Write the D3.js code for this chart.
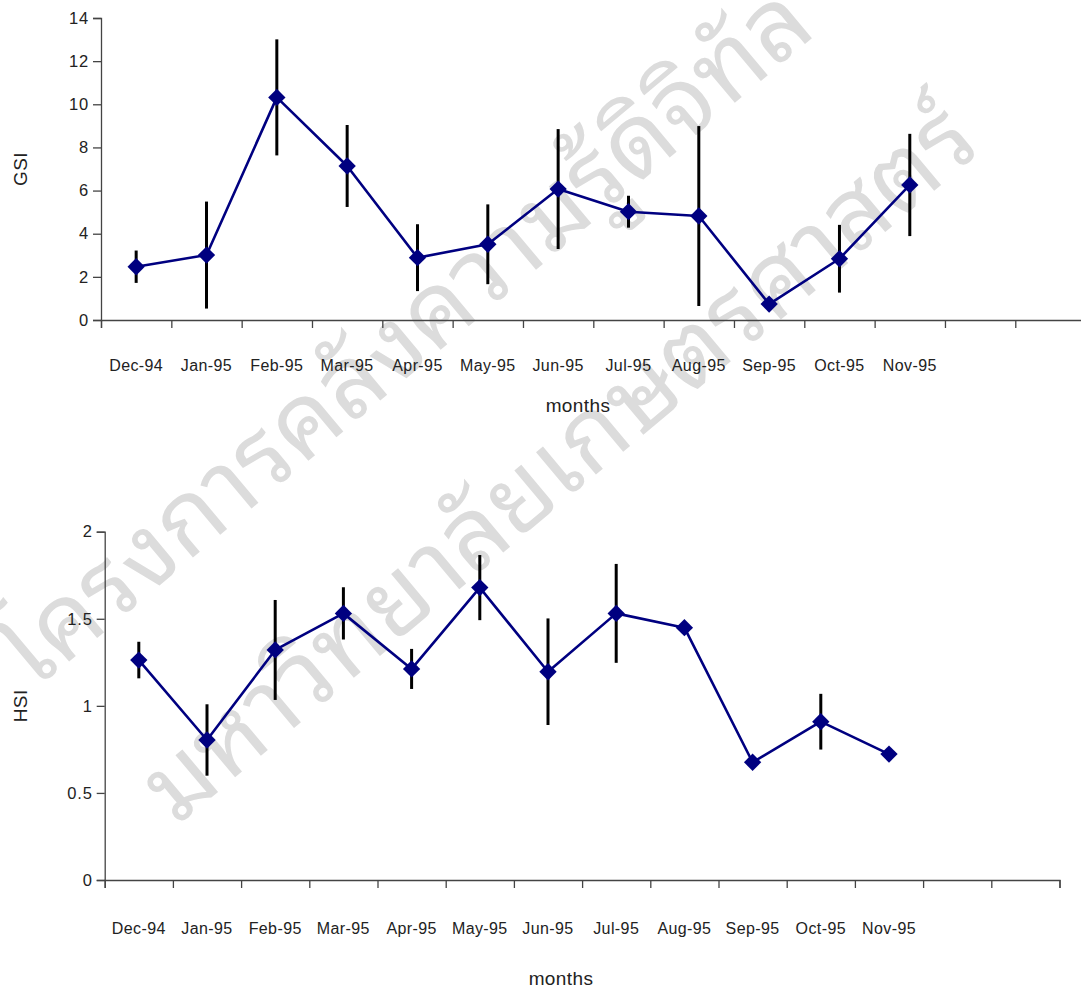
<!DOCTYPE html>
<html>
<head>
<meta charset="utf-8">
<script src="https://cdn.jsdelivr.net/npm/d3@7"></script>
<style>
  html, body { margin: 0; padding: 0; background: #fff; }
  svg { display: block; }
  text { font-family: "Liberation Sans", Arial, Helvetica, sans-serif; }
</style>
</head>
<body>
<div id="chart"></div>
<script>
// Monthly categories (Dec 1994 – Nov 1995)
const months = ["Dec-94", "Jan-95", "Feb-95", "Mar-95", "Apr-95", "May-95",
                "Jun-95", "Jul-95", "Aug-95", "Sep-95", "Oct-95", "Nov-95"];
const slotCount = 14; // the category axis has two empty slots after Nov-95

// Gonadosomatic index: monthly mean and error
const gsiMean = [2.47, 3.01, 10.32, 7.14, 2.89, 3.51, 6.07, 5.02, 4.82, 0.74, 2.84, 6.26];
const gsiErr  = [0.75, 2.48, 2.69, 1.90, 1.55, 1.85, 2.78, 0.74, 4.17, 0.00, 1.57, 2.37];
const gsiTicks = [0, 2, 4, 6, 8, 10, 12, 14];

// Hepatosomatic index: monthly mean and error
const hsiMean = [1.263, 0.804, 1.321, 1.531, 1.212, 1.679, 1.196, 1.531, 1.449, 0.676, 0.909, 0.723];
const hsiErr  = [0.105, 0.205, 0.287, 0.150, 0.115, 0.187, 0.306, 0.284, 0.000, 0.020, 0.160, 0.010];
const hsiTicks = [0, 0.5, 1, 1.5, 2];

// Watermark lines
const watermarkLines = ["โครงการคลังความรู้ดิจิทัล", "มหาวิทยาลัยเกษตรศาสตร์"];

const W = 1081, H = 989;
const svg = d3.select("#chart").append("svg")
  .attr("width", W).attr("height", H)
  .attr("viewBox", `0 0 ${W} ${H}`);

// Watermark, behind the charts
const wm = svg.append("g").attr("class", "watermark");
const wmPos = [[426, 362], [580, 488]];
watermarkLines.forEach((t, i) => {
  wm.append("text")
    .attr("transform", `translate(${wmPos[i][0]},${wmPos[i][1]}) rotate(-40)`)
    .attr("text-anchor", "middle")
    .style("font-family", "'Noto Sans Thai Looped','Noto Sans Thai','Loma','Garuda','Norasi',sans-serif")
    .style("font-size", "100px")
    .style("font-weight", 400)
    .attr("fill", "#dcdcdc")
    .text(t);
});

function panel(opts) {
  const g = svg.append("g");
  const { x0, x1, yTop, yBottom, yMax, ticks, mean, err, yLabel, labelY, titleX, titleY } = opts;

  const y = d3.scaleLinear().domain([0, yMax]).range([yBottom, yTop]);
  const band = d3.scaleBand().domain(d3.range(slotCount)).range([x0, x1]).padding(0);
  const edge = d3.scaleLinear().domain([0, slotCount]).range([x0, x1]);

  // y axis
  const yAxis = g.append("g")
    .attr("transform", `translate(${x0},0)`)
    .call(d3.axisLeft(y).tickValues(ticks).tickSize(8).tickPadding(4)
      .tickFormat(d3.format("")));
  yAxis.select(".domain").attr("stroke", "#444").attr("stroke-width", 1.3);
  yAxis.selectAll(".tick line").attr("stroke", "#444").attr("stroke-width", 1.3);
  yAxis.selectAll(".tick text").attr("fill", "#222")
    .style("font-size", "16.5px").style("letter-spacing", "0.8px");

  // x axis: ticks on category boundaries
  const xAxis = g.append("g")
    .attr("transform", `translate(0,${yBottom})`)
    .call(d3.axisBottom(edge).tickValues(d3.range(slotCount + 1)).tickSize(8)
      .tickFormat(""));
  xAxis.select(".domain").attr("stroke", "#444").attr("stroke-width", 1.3);
  xAxis.selectAll(".tick line").attr("stroke", "#444").attr("stroke-width", 1.3);

  // category labels centred in each slot
  g.append("g").selectAll("text").data(months).join("text")
    .attr("x", (d, i) => band(i) + band.bandwidth() / 2)
    .attr("y", labelY)
    .attr("text-anchor", "middle")
    .attr("dominant-baseline", "middle")
    .attr("fill", "#222")
    .style("font-size", "16px")
    .style("letter-spacing", "0.4px")
    .text(d => d);

  // axis titles
  g.append("text")
    .attr("x", titleX).attr("y", titleY)
    .attr("text-anchor", "middle")
    .attr("fill", "#222")
    .style("font-size", "19px")
    .style("letter-spacing", "0.4px")
    .text("months");
  g.append("text")
    .attr("transform", `translate(27,${(yTop + yBottom) / 2}) rotate(-90)`)
    .attr("text-anchor", "middle")
    .attr("fill", "#222")
    .style("font-size", "19px")
    .style("letter-spacing", "0.4px")
    .text(yLabel);

  const cx = i => band(i) + band.bandwidth() / 2;

  // connecting line
  g.append("path")
    .datum(mean)
    .attr("fill", "none")
    .attr("stroke", "#000080")
    .attr("stroke-width", 2.6)
    .attr("stroke-linejoin", "round")
    .attr("d", d3.line().x((d, i) => cx(i)).y(d => y(d)));

  // error bars
  g.append("g").selectAll("line").data(mean).join("line")
    .attr("x1", (d, i) => cx(i)).attr("x2", (d, i) => cx(i))
    .attr("y1", (d, i) => y(d + err[i]))
    .attr("y2", (d, i) => y(d - err[i]))
    .attr("stroke", "#000")
    .attr("stroke-width", 3);

  // diamond markers
  g.append("g").selectAll("path").data(mean).join("path")
    .attr("transform", (d, i) => `translate(${cx(i)},${y(d)}) rotate(45)`)
    .attr("d", d3.symbol().type(d3.symbolSquare).size(150))
    .attr("fill", "#000080");
}

panel({
  x0: 101, x1: 101 + 70.33 * slotCount, yTop: 18, yBottom: 320, yMax: 14,
  ticks: gsiTicks, mean: gsiMean, err: gsiErr, yLabel: "GSI",
  labelY: 367, titleX: 578, titleY: 412
});

panel({
  x0: 104.7, x1: 1059.5, yTop: 531.7, yBottom: 880, yMax: 2,
  ticks: hsiTicks, mean: hsiMean, err: hsiErr, yLabel: "HSI",
  labelY: 930, titleX: 561, titleY: 985
});
</script>
</body>
</html>
